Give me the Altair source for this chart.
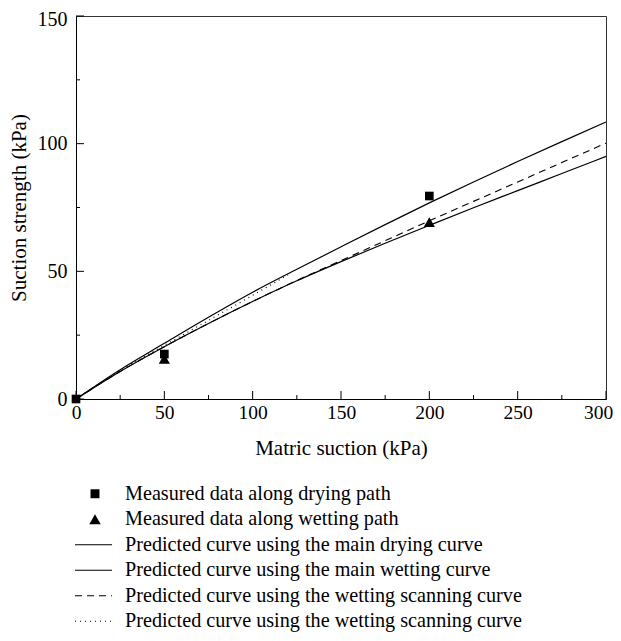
import altair as alt
import pandas as pd

# ---- data ----
suction = [0, 25, 50, 75, 100, 125, 150, 175, 200, 225, 250, 275, 300]
drying_curve = [0, 11.5, 21.8, 32.0, 41.8, 50.8, 59.6, 68.3, 76.8, 85.0, 93.0, 100.8, 108.5]
wetting_curve = [0, 10.8, 20.5, 29.6, 38.2, 46.3, 53.8, 61.0, 68.0, 74.9, 81.6, 88.3, 95.0]
wet_scan_dashed = [0, 10.8, 20.5, 29.6, 38.2, 46.4, 54.2, 62.0, 69.8, 77.4, 85.0, 92.6, 100.2]
wet_scan_dotted_x = [0, 25, 50, 75, 100, 120]
wet_scan_dotted = [0, 11.2, 21.0, 30.8, 40.6, 48.6]

dry_meas_x = [0, 50, 200]
dry_meas_y = [0, 17.6, 79.5]
wet_meas_x = [50, 200]
wet_meas_y = [15.7, 69.3]

legend_labels = [
    "Measured data along drying path",
    "Measured data along wetting path",
    "Predicted curve using the main drying curve",
    "Predicted curve using the main wetting curve",
    "Predicted curve using the wetting scanning curve",
    "Predicted curve using the wetting scanning curve ",
]
legend_kind = ["square", "triangle", "solid", "solid", "dashed", "dotted"]

x_major = [0, 50, 100, 150, 200, 250, 300]
x_minor = [25, 75, 125, 175, 225, 275]
y_major = [0, 50, 100, 150]
y_minor = [25, 75, 125]

FONT = "Liberation Serif"
W, H = 530, 383

xs = alt.Scale(domain=[0, 300], nice=False)
ys = alt.Scale(domain=[0, 150], nice=False)

curves = []
for name, vals in [("dry", drying_curve), ("wet", wetting_curve), ("dash", wet_scan_dashed)]:
    curves.append(pd.DataFrame({"x": suction, "y": vals, "c": name}))
df_lines = pd.concat(curves)
df_dot = pd.DataFrame({"x": wet_scan_dotted_x, "y": wet_scan_dotted})

X = alt.X("x:Q", scale=xs, axis=alt.Axis(
    values=x_major, ticks=False, title="Matric suction (kPa)", grid=False,
    labelFont=FONT, labelFontSize=19.5, labelColor="black", labelPadding=4,
    labelOffset={"condition": {"test": "datum.value == 300", "value": -8}, "value": 0},
    titleFont=FONT, titleFontSize=21, titleFontWeight="normal", titleColor="black",
    titlePadding=16, domainColor="black", labelFlush=False))
Y = alt.Y("y:Q", scale=ys, axis=alt.Axis(
    values=y_major, ticks=False, title="Suction strength (kPa)", grid=False,
    labelFont=FONT, labelFontSize=20, labelColor="black", labelPadding=9,
    labelOffset={"condition": {"test": "datum.value == 150", "value": 3}, "value": 0},
    titleFont=FONT, titleFontSize=21, titleFontWeight="normal", titleColor="black",
    titlePadding=8, domainColor="black", labelFlush=False))

solid = alt.Chart(df_lines[df_lines.c != "dash"]).mark_line(
    color="black", strokeWidth=1.2, interpolate="monotone").encode(x=X, y=Y, detail="c:N")
dashed = alt.Chart(df_lines[df_lines.c == "dash"]).mark_line(
    color="black", strokeWidth=1.1, strokeDash=[7, 5], interpolate="monotone").encode(x="x:Q", y="y:Q")
dotted = alt.Chart(df_dot).mark_line(
    color="black", strokeWidth=1.1, strokeDash=[1, 4], interpolate="monotone").encode(x="x:Q", y="y:Q")
sq = alt.Chart(pd.DataFrame({"x": dry_meas_x, "y": dry_meas_y})).mark_point(
    shape="square", filled=True, color="black", size=75, opacity=1).encode(x="x:Q", y="y:Q")
tri = alt.Chart(pd.DataFrame({"x": wet_meas_x, "y": wet_meas_y})).mark_point(
    shape="triangle-up", filled=True, color="black", size=125, opacity=1).encode(x="x:Q", y="y:Q")

# inward ticks
xt_major = alt.Chart(pd.DataFrame({"x": x_major})).mark_rule(color="black").encode(
    x="x:Q", y=alt.value(H), y2=alt.value(H - 8))
xt_minor = alt.Chart(pd.DataFrame({"x": x_minor})).mark_rule(color="black").encode(
    x="x:Q", y=alt.value(H), y2=alt.value(H - 4))
yt_major = alt.Chart(pd.DataFrame({"y": y_major})).mark_rule(color="black").encode(
    y="y:Q", x=alt.value(0), x2=alt.value(8))
yt_minor = alt.Chart(pd.DataFrame({"y": y_minor})).mark_rule(color="black").encode(
    y="y:Q", x=alt.value(0), x2=alt.value(4))

main = alt.layer(solid, dashed, dotted, sq, tri, xt_major, xt_minor, yt_major, yt_minor)

# legend below the plot, on its own band scale
df_leg = pd.DataFrame({"label": legend_labels, "kind": legend_kind})
LY = alt.Y("label:N", axis=None,
           scale=alt.Scale(domain=legend_labels, range=[H + 82, H + 235],
                           paddingInner=0, paddingOuter=0))
leg_text = alt.Chart(df_leg).mark_text(
    align="left", baseline="middle", font=FONT, fontSize=20.2, color="black").encode(
    x=alt.value(49), y=LY, text="label:N")
leg_sq = alt.Chart(df_leg[df_leg.kind == "square"]).mark_point(
    shape="square", filled=True, color="black", size=80, opacity=1).encode(x=alt.value(19), y=LY)
leg_tri = alt.Chart(df_leg[df_leg.kind == "triangle"]).mark_point(
    shape="triangle-up", filled=True, color="black", size=130, opacity=1).encode(x=alt.value(19), y=LY)
leg_solid = alt.Chart(df_leg[df_leg.kind == "solid"]).mark_rule(
    color="black", strokeWidth=1.1).encode(x=alt.value(-1), x2=alt.value(36), y=LY)
leg_dash = alt.Chart(df_leg[df_leg.kind == "dashed"]).mark_rule(
    color="black", strokeWidth=1.1, strokeDash=[7, 5]).encode(x=alt.value(-1), x2=alt.value(36), y=LY)
leg_dot = alt.Chart(df_leg[df_leg.kind == "dotted"]).mark_rule(
    color="black", strokeWidth=1.1, strokeDash=[1, 4]).encode(x=alt.value(-1), x2=alt.value(36), y=LY)
legend = alt.layer(leg_text, leg_sq, leg_tri, leg_solid, leg_dash, leg_dot)

chart = alt.layer(main, legend).resolve_scale(y="independent").properties(
    width=W, height=H,
    autosize=alt.AutoSizeParams(type="none"),
    padding={"left": 68, "top": 8, "right": 7, "bottom": 233},
).configure_view(stroke="#333333", strokeWidth=1)

chart.save("out.html", embed_options={"renderer": "svg", "actions": False})
